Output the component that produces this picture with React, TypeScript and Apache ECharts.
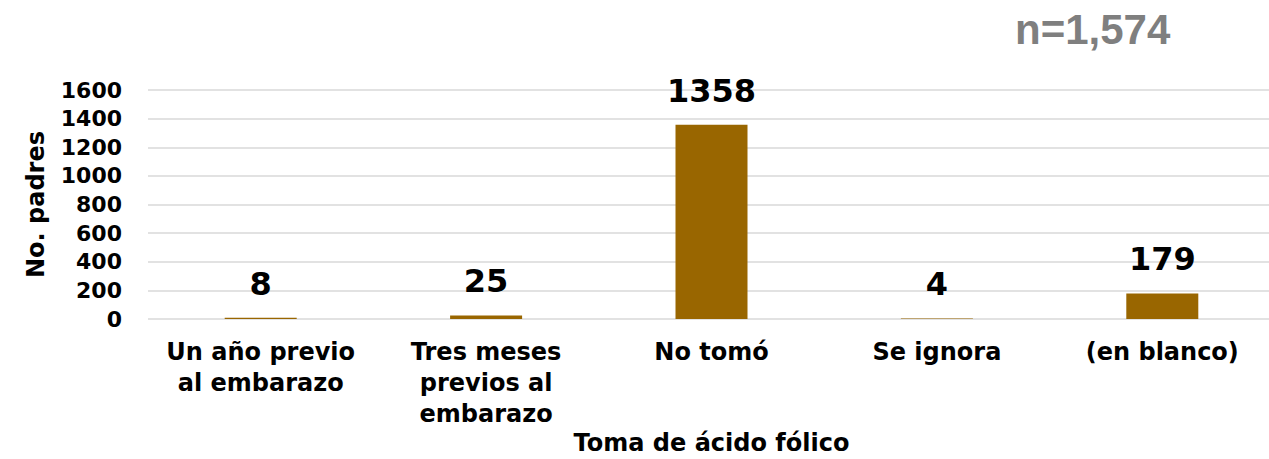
import React, { useEffect, useRef } from "react";
import * as echarts from "echarts";

const categories = [
  "Un año previo\nal embarazo",
  "Tres meses\nprevios al\nembarazo",
  "No tomó",
  "Se ignora",
  "(en blanco)",
];
const values = [8, 25, 1358, 4, 179];
const yTicks = { min: 0, max: 1600, interval: 200 };
const xTitle = "Toma de ácido fólico";
const yTitle = "No. padres";
const sampleNote = "n=1,574";

const FONT = "'DejaVu Sans', sans-serif";

export default function App() {
  const ref = useRef<HTMLDivElement>(null);
  useEffect(() => {
    document.body.style.margin = "0";
    document.body.style.overflow = "hidden";
    const chart = echarts.init(ref.current!, null, { renderer: "svg" });
    chart.setOption({
      animation: false,
      backgroundColor: "#ffffff",
      grid: {
        left: 148,
        right: -6,
        top: 90,
        bottom: 140,
        containLabel: false,
        outerBoundsMode: "none",
      },
      xAxis: {
        type: "category",
        data: categories,
        name: xTitle,
        nameLocation: "middle",
        nameGap: 112,
        nameMoveOverlap: false,
        nameTextStyle: { fontFamily: FONT, fontWeight: "bold", fontSize: 24, color: "#000" },
        axisLine: { show: false },
        axisTick: { show: false },
        axisLabel: {
          interval: 0,
          margin: 17,
          fontFamily: FONT,
          fontWeight: "bold",
          fontSize: 24,
          lineHeight: 31,
          color: "#000",
        },
      },
      yAxis: {
        type: "value",
        min: yTicks.min,
        max: yTicks.max,
        interval: yTicks.interval,
        name: yTitle,
        nameLocation: "middle",
        nameGap: 100,
        nameMoveOverlap: false,
        nameTextStyle: { fontFamily: FONT, fontWeight: "bold", fontSize: 24, color: "#000" },
        axisLine: { show: false },
        axisTick: { show: false },
        axisLabel: {
          margin: 26,
          fontFamily: FONT,
          fontWeight: "bold",
          fontSize: 22,
          color: "#000",
          formatter: (v: number) => String(v),
        },
        splitLine: { lineStyle: { color: "#d9d9d9", width: 1.5 } },
      },
      series: [
        {
          type: "bar",
          data: values,
          barWidth: 72,
          itemStyle: { color: "#996600" },
          label: {
            show: true,
            position: "top",
            distance: 18,
            fontFamily: FONT,
            fontWeight: "bold",
            fontSize: 32,
            color: "#000",
          },
        },
      ],
      graphic: [
        {
          type: "text",
          left: 1015,
          top: 8,
          style: {
            text: sampleNote,
            fontFamily: "'Liberation Sans', Arial, sans-serif",
            fontWeight: "bold",
            fontSize: 42,
            fill: "#7f7f7f",
          },
        },
      ],
    });
    return () => chart.dispose();
  }, []);
  return (
    <div
      ref={ref}
      style={{ position: "fixed", left: 0, top: 0, width: 1269, height: 459 }}
    />
  );
}
